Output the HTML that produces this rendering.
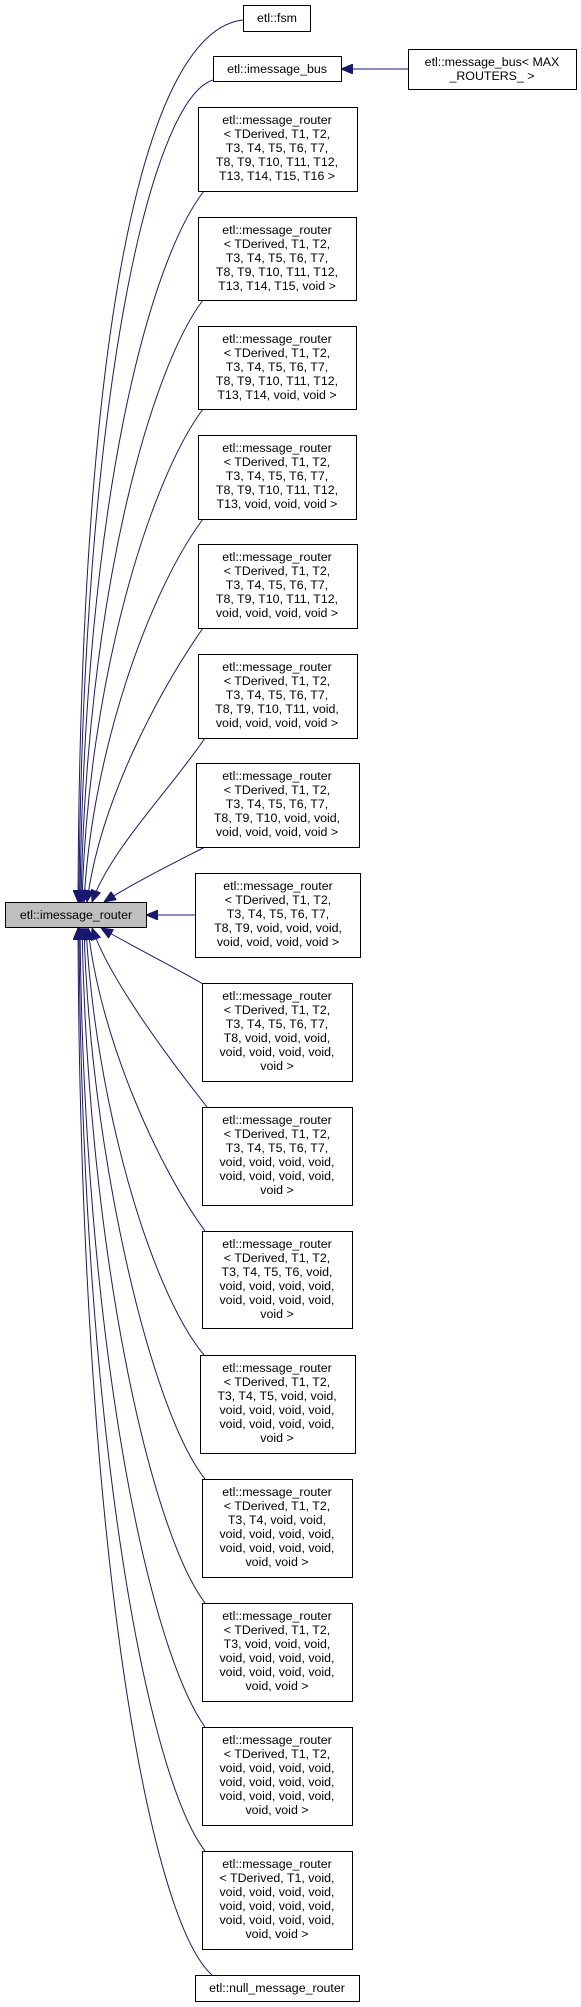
<!DOCTYPE html>
<html><head><meta charset="utf-8"><style>
html,body{margin:0;padding:0;background:#fff;}
svg{display:block;}
text{font-family:"Liberation Sans",Arial,sans-serif;font-size:12.4px;fill:#000;text-anchor:middle;}
.b{fill:#fff;stroke:#000;stroke-width:1;}
.e{fill:none;stroke:#191970;stroke-width:1;}
</style></head><body>
<svg width="581" height="2007" viewBox="0 0 581 2007" xmlns="http://www.w3.org/2000/svg">
<defs>
<marker id="a" markerUnits="userSpaceOnUse" markerWidth="12" markerHeight="10" refX="12" refY="5" orient="auto">
<path d="M0,0 L12,5 L0,10 z" fill="#191970" stroke="#191970"/>
</marker>
</defs>

<!-- edges upper -->
<path class="e" marker-end="url(#a)" d="M243,20 C150,30 80,300 78,902"/>
<path class="e" marker-end="url(#a)" d="M213,80 C150,100 82,400 79,902"/>
<path class="e" marker-end="url(#a)" d="M204,191 C150,260 84,500 80,902"/>
<path class="e" marker-end="url(#a)" d="M203,300 C150,370 86,600 81,902"/>
<path class="e" marker-end="url(#a)" d="M203,409 C150,480 88,680 82,902"/>
<path class="e" marker-end="url(#a)" d="M203,519 C150,590 92,750 84,902"/>
<path class="e" marker-end="url(#a)" d="M203,628 C160,690 100,800 87,902"/>
<path class="e" marker-end="url(#a)" d="M205,738 C170,790 110,850 92,902"/>
<path class="e" marker-end="url(#a)" d="M205,847 C170,865 130,885 104,902"/>
<!-- horizontal -->
<path class="e" marker-end="url(#a)" d="M195,915 L146,915"/>
<path class="e" marker-end="url(#a)" d="M408,69 L341,69"/>
<!-- edges lower -->
<path class="e" marker-end="url(#a)" d="M203,984 C170,965 130,945 101,928"/>
<path class="e" marker-end="url(#a)" d="M207,1107 C170,1060 110,980 92,928"/>
<path class="e" marker-end="url(#a)" d="M205,1231 C160,1170 100,1040 88,928"/>
<path class="e" marker-end="url(#a)" d="M204,1355 C150,1290 95,1100 86,928"/>
<path class="e" marker-end="url(#a)" d="M205,1479 C150,1410 90,1150 84,928"/>
<path class="e" marker-end="url(#a)" d="M205,1603 C150,1530 88,1250 82,928"/>
<path class="e" marker-end="url(#a)" d="M205,1727 C150,1650 84,1350 80,928"/>
<path class="e" marker-end="url(#a)" d="M205,1851 C150,1780 82,1450 79,928"/>
<path class="e" marker-end="url(#a)" d="M212,1975 C150,1920 80,1550 78,928"/>

<!-- router -->
<rect x="5.5" y="902.5" width="141" height="25" fill="#bfbfbf" stroke="#000"/>
<text x="76" y="919">etl::imessage_router</text>

<rect class="b" x="243.5" y="5.5" width="67" height="26"/>
<text x="277" y="22">etl::fsm</text>
<rect class="b" x="213.5" y="56.5" width="128" height="25"/>
<text x="277" y="73">etl::imessage_bus</text>
<rect class="b" x="408.5" y="49.5" width="168" height="40"/>
<text x="492" y="66">etl::message_bus&lt; MAX</text>
<text x="492" y="80">_ROUTERS_ &gt;</text>

<rect class="b" x="198.5" y="107.5" width="159" height="84"/>
<text x="277" y="124">etl::message_router</text><text x="277" y="138">&lt; TDerived, T1, T2,</text><text x="277" y="152">T3, T4, T5, T6, T7,</text><text x="277" y="166">T8, T9, T10, T11, T12,</text><text x="277" y="180">T13, T14, T15, T16 &gt;</text>

<rect class="b" x="198.5" y="217.5" width="158" height="83"/>
<text x="277" y="234">etl::message_router</text><text x="277" y="248">&lt; TDerived, T1, T2,</text><text x="277" y="262">T3, T4, T5, T6, T7,</text><text x="277" y="276">T8, T9, T10, T11, T12,</text><text x="277" y="290">T13, T14, T15, void &gt;</text>

<rect class="b" x="198.5" y="326.5" width="158" height="83"/>
<text x="277" y="343">etl::message_router</text><text x="277" y="357">&lt; TDerived, T1, T2,</text><text x="277" y="371">T3, T4, T5, T6, T7,</text><text x="277" y="385">T8, T9, T10, T11, T12,</text><text x="277" y="399">T13, T14, void, void &gt;</text>

<rect class="b" x="198.5" y="435.5" width="158" height="84"/>
<text x="277" y="452">etl::message_router</text><text x="277" y="466">&lt; TDerived, T1, T2,</text><text x="277" y="480">T3, T4, T5, T6, T7,</text><text x="277" y="494">T8, T9, T10, T11, T12,</text><text x="277" y="508">T13, void, void, void &gt;</text>

<rect class="b" x="198.5" y="544.5" width="159" height="84"/>
<text x="277" y="561">etl::message_router</text><text x="277" y="575">&lt; TDerived, T1, T2,</text><text x="277" y="589">T3, T4, T5, T6, T7,</text><text x="277" y="603">T8, T9, T10, T11, T12,</text><text x="277" y="617">void, void, void, void &gt;</text>

<rect class="b" x="198.5" y="654.5" width="159" height="84"/>
<text x="277" y="671">etl::message_router</text><text x="277" y="685">&lt; TDerived, T1, T2,</text><text x="277" y="699">T3, T4, T5, T6, T7,</text><text x="277" y="713">T8, T9, T10, T11, void,</text><text x="277" y="727">void, void, void, void &gt;</text>

<rect class="b" x="196.5" y="763.5" width="163" height="84"/>
<text x="277" y="780">etl::message_router</text><text x="277" y="794">&lt; TDerived, T1, T2,</text><text x="277" y="808">T3, T4, T5, T6, T7,</text><text x="277" y="822">T8, T9, T10, void, void,</text><text x="277" y="836">void, void, void, void &gt;</text>

<rect class="b" x="195.5" y="873.5" width="165" height="84"/>
<text x="278" y="890">etl::message_router</text><text x="278" y="904">&lt; TDerived, T1, T2,</text><text x="278" y="918">T3, T4, T5, T6, T7,</text><text x="278" y="932">T8, T9, void, void, void,</text><text x="278" y="946">void, void, void, void &gt;</text>

<rect class="b" x="202.5" y="983.5" width="150" height="98"/>
<text x="277" y="1000">etl::message_router</text><text x="277" y="1014">&lt; TDerived, T1, T2,</text><text x="277" y="1028">T3, T4, T5, T6, T7,</text><text x="277" y="1042">T8, void, void, void,</text><text x="277" y="1056">void, void, void, void,</text><text x="277" y="1070">void &gt;</text>

<rect class="b" x="202.5" y="1107.5" width="150" height="98"/>
<text x="277" y="1124">etl::message_router</text><text x="277" y="1138">&lt; TDerived, T1, T2,</text><text x="277" y="1152">T3, T4, T5, T6, T7,</text><text x="277" y="1166">void, void, void, void,</text><text x="277" y="1180">void, void, void, void,</text><text x="277" y="1194">void &gt;</text>

<rect class="b" x="202.5" y="1231.5" width="150" height="97"/>
<text x="277" y="1248">etl::message_router</text><text x="277" y="1262">&lt; TDerived, T1, T2,</text><text x="277" y="1276">T3, T4, T5, T6, void,</text><text x="277" y="1290">void, void, void, void,</text><text x="277" y="1304">void, void, void, void,</text><text x="277" y="1318">void &gt;</text>

<rect class="b" x="200.5" y="1355.5" width="155" height="98"/>
<text x="277" y="1372">etl::message_router</text><text x="277" y="1386">&lt; TDerived, T1, T2,</text><text x="277" y="1400">T3, T4, T5, void, void,</text><text x="277" y="1414">void, void, void, void,</text><text x="277" y="1428">void, void, void, void,</text><text x="277" y="1442">void &gt;</text>

<rect class="b" x="202.5" y="1479.5" width="150" height="98"/>
<text x="277" y="1496">etl::message_router</text><text x="277" y="1510">&lt; TDerived, T1, T2,</text><text x="277" y="1524">T3, T4, void, void,</text><text x="277" y="1538">void, void, void, void,</text><text x="277" y="1552">void, void, void, void,</text><text x="277" y="1566">void, void &gt;</text>

<rect class="b" x="202.5" y="1603.5" width="150" height="98"/>
<text x="277" y="1620">etl::message_router</text><text x="277" y="1634">&lt; TDerived, T1, T2,</text><text x="277" y="1648">T3, void, void, void,</text><text x="277" y="1662">void, void, void, void,</text><text x="277" y="1676">void, void, void, void,</text><text x="277" y="1690">void, void &gt;</text>

<rect class="b" x="202.5" y="1727.5" width="150" height="98"/>
<text x="277" y="1744">etl::message_router</text><text x="277" y="1758">&lt; TDerived, T1, T2,</text><text x="277" y="1772">void, void, void, void,</text><text x="277" y="1786">void, void, void, void,</text><text x="277" y="1800">void, void, void, void,</text><text x="277" y="1814">void, void &gt;</text>

<rect class="b" x="202.5" y="1851.5" width="150" height="98"/>
<text x="277" y="1868">etl::message_router</text><text x="277" y="1882">&lt; TDerived, T1, void,</text><text x="277" y="1896">void, void, void, void,</text><text x="277" y="1910">void, void, void, void,</text><text x="277" y="1924">void, void, void, void,</text><text x="277" y="1938">void, void &gt;</text>

<rect class="b" x="195.5" y="1975.5" width="164" height="26"/>
<text x="277" y="1992">etl::null_message_router</text>
</svg>
</body></html>
